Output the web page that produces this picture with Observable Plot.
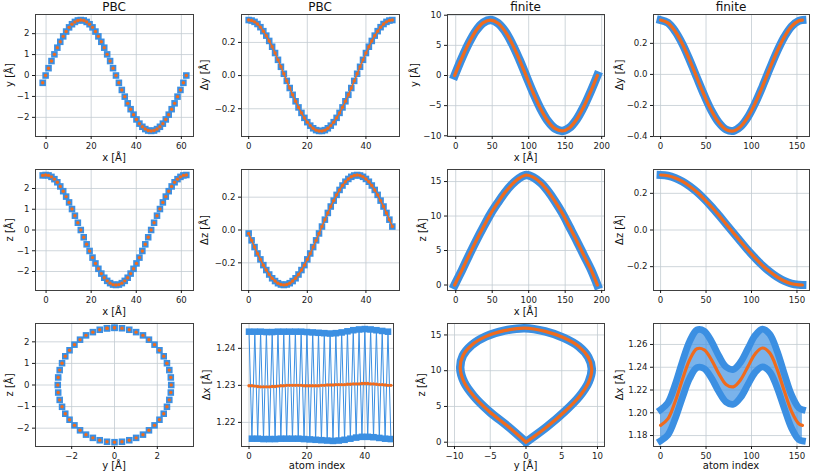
<!DOCTYPE html>
<html><head><meta charset="utf-8">
<script src="https://cdn.jsdelivr.net/npm/d3@7"></script>
<script src="https://cdn.jsdelivr.net/npm/@observablehq/plot@0.6"></script>
<style>
html,body{margin:0;padding:0;background:#fff;}
#fig{position:relative;width:813px;height:476px;overflow:hidden;font-family:"DejaVu Sans",sans-serif;color:#111;background:#fff;}
#fig svg{position:absolute;}
.lbl{position:absolute;white-space:nowrap;font-size:10px;line-height:1;transform:translate(-50%,-50%);}
.lbl.rot{transform:translate(-50%,-50%) rotate(-90deg);}
.lbl.ttl{font-size:12px;}
</style></head><body><div id="fig"></div>
<script>
// ---------- PBC: atomic positions (50 atoms) ----------
const posX = [-1.5,-0.2,1.1,2.4,3.7,5.0,6.3,7.6,8.9,10.2,11.5,12.8,14.1,15.4,16.7,18.0,19.3,20.6,21.9,23.2,24.5,25.8,27.1,28.4,29.7,31.0,32.3,33.6,34.9,36.2,37.5,38.8,40.1,41.4,42.7,44.0,45.3,46.6,47.9,49.2,50.5,51.8,53.1,54.4,55.7,57.0,58.3,59.6,60.9,62.2];
const posY = [-0.35,0,0.35,0.69,1.01,1.33,1.61,1.87,2.10,2.30,2.45,2.56,2.63,2.65,2.63,2.56,2.45,2.30,2.10,1.87,1.61,1.33,1.01,0.69,0.35,0,-0.35,-0.69,-1.01,-1.33,-1.61,-1.87,-2.10,-2.30,-2.45,-2.56,-2.63,-2.65,-2.63,-2.56,-2.45,-2.30,-2.10,-1.87,-1.61,-1.33,-1.01,-0.69,-0.35,0];
const posZ = [2.63,2.65,2.63,2.56,2.45,2.30,2.10,1.87,1.61,1.33,1.01,0.69,0.35,0,-0.35,-0.69,-1.01,-1.33,-1.61,-1.87,-2.10,-2.30,-2.45,-2.56,-2.63,-2.65,-2.63,-2.56,-2.45,-2.30,-2.10,-1.87,-1.61,-1.33,-1.01,-0.69,-0.35,0,0.35,0.69,1.01,1.33,1.61,1.87,2.10,2.30,2.45,2.56,2.63,2.65];
// ---------- PBC: bond differences (index 0..49) ----------
const dyP = [0.335,0.332,0.324,0.311,0.292,0.268,0.241,0.209,0.174,0.136,0.095,0.053,0.011,-0.032,-0.075,-0.116,-0.155,-0.192,-0.225,-0.255,-0.281,-0.302,-0.318,-0.329,-0.334,-0.334,-0.329,-0.318,-0.302,-0.281,-0.255,-0.225,-0.192,-0.155,-0.116,-0.075,-0.032,0.011,0.053,0.095,0.136,0.174,0.209,0.241,0.268,0.292,0.311,0.324,0.332,0.335];
const dzP = [-0.021,-0.063,-0.104,-0.143,-0.179,-0.214,-0.244,-0.271,-0.294,-0.311,-0.324,-0.332,-0.335,-0.332,-0.324,-0.311,-0.294,-0.271,-0.244,-0.214,-0.179,-0.143,-0.104,-0.063,-0.021,0.021,0.063,0.104,0.143,0.179,0.214,0.244,0.271,0.294,0.311,0.324,0.332,0.335,0.332,0.324,0.311,0.294,0.271,0.244,0.214,0.179,0.143,0.104,0.063,0.021];
const dxP = [1.2445,1.2156,1.2445,1.2156,1.2445,1.2155,1.2444,1.2155,1.2444,1.2155,1.2445,1.2156,1.2445,1.2156,1.2445,1.2156,1.2445,1.2156,1.2445,1.2155,1.2444,1.2154,1.2443,1.2153,1.2442,1.2152,1.2441,1.2151,1.2440,1.2150,1.2441,1.2151,1.2443,1.2153,1.2446,1.2156,1.2449,1.2159,1.2451,1.2161,1.2452,1.2161,1.2451,1.2160,1.2449,1.2158,1.2447,1.2156,1.2445,1.2155];
const dxPavg = [1.2299,1.2299,1.2298,1.2297,1.2296,1.2296,1.2296,1.2296,1.2297,1.2297,1.2298,1.2299,1.2299,1.2300,1.2300,1.2300,1.2300,1.2300,1.2300,1.2299,1.2299,1.2299,1.2299,1.2299,1.2299,1.2300,1.2300,1.2301,1.2301,1.2301,1.2302,1.2302,1.2302,1.2302,1.2303,1.2303,1.2304,1.2304,1.2304,1.2305,1.2305,1.2305,1.2304,1.2304,1.2303,1.2302,1.2302,1.2301,1.2300,1.2300];
// ---------- finite: positions, sampled atoms ----------
const finX = [-1.5,8.3,18.2,28.0,37.9,47.7,57.5,67.4,77.2,87.1,96.9,106.7,116.6,126.4,136.3,146.1,156.0,165.8,175.6,185.5,194.1];
const finY = [0,2.86,5.43,7.47,8.77,9.20,8.71,7.37,5.29,2.69,-0.18,-3.03,-5.59,-7.58,-8.83,-9.20,-8.66,-7.26,-5.14,-2.51,0];
const finZ = [0,2.1,4.3,6.4,8.4,10.3,11.9,13.4,14.6,15.5,15.95,15.6,14.8,13.6,12.1,10.4,8.4,6.4,4.3,2.2,0];
// ---------- finite: bond differences, sampled atom index ----------
const kD = [0,8,16,24,32,40,48,56,64,72,80,88,96,104,112,120,128,136,144,152,156];
const dyF = [0.350,0.332,0.278,0.196,0.092,-0.022,-0.134,-0.234,-0.310,-0.355,-0.364,-0.336,-0.275,-0.186,-0.079,0.036,0.146,0.240,0.309,0.345,0.350];
const dzF = [0.300,0.296,0.284,0.265,0.239,0.207,0.169,0.127,0.081,0.033,-0.015,-0.063,-0.110,-0.153,-0.193,-0.227,-0.256,-0.278,-0.293,-0.299,-0.300];
const dxFavg = [1.1890,1.1946,1.2097,1.2292,1.2466,1.2562,1.2553,1.2465,1.2344,1.2249,1.2228,1.2290,1.2405,1.2517,1.2569,1.2526,1.2385,1.2193,1.2012,1.1904,1.1890];
const dxFhi = [1.2027,1.2087,1.2247,1.2450,1.2629,1.2728,1.2718,1.2626,1.2501,1.2403,1.2381,1.2445,1.2563,1.2679,1.2735,1.2691,1.2545,1.2345,1.2157,1.2043,1.2027];
const dxFlo = [1.1753,1.1805,1.1947,1.2134,1.2303,1.2396,1.2388,1.2304,1.2187,1.2095,1.2075,1.2135,1.2247,1.2355,1.2403,1.2361,1.2225,1.2041,1.1867,1.1765,1.1753];

// ---------- tables ----------
const pos = posX.map((x,i)=>({x, y:posY[i], z:posZ[i]}));
const fin = finX.map((x,i)=>({x, y:finY[i], z:finZ[i]}));
const finD = kD.map((k,i)=>({k, dy:dyF[i], dz:dzF[i], m:dxFavg[i], hi:dxFhi[i], lo:dxFlo[i]}));

const BLUE="#3b8fe2", ORANGE="#f06b1d", GRID="#c3cbd2";
const ML=46, MR=8, MT=8, MB=24;
const fig=document.getElementById("fig");
const pad=v=>{const lo=d3.min(v),hi=d3.max(v),r=hi-lo;return [lo-0.05*r,hi+0.05*r];};
const fI=d3.format("d"), f1=d3.format(".1f"), f2=d3.format(".2f");
const I=(d,i)=>i, V=d=>d;

const sq=(data,x,y)=>Plot.dot(data,{x,y,symbol:"square",r:3.7,fill:BLUE,stroke:null,clip:true});
const od=(data,x,y)=>Plot.dot(data,{x,y,r:1.7,fill:ORANGE,stroke:null,clip:true});
const bl=(data,x,y,w)=>Plot.line(data,{x,y,stroke:BLUE,strokeWidth:w,clip:true});
const ol=(data,x,y,w)=>Plot.line(data,{x,y,stroke:ORANGE,strokeWidth:w,clip:true});
const band=(data,x,y,w)=>Plot.line(data,{x,y,stroke:BLUE,strokeWidth:w,strokeLinecap:"square",strokeLinejoin:"round",curve:"catmull-rom",clip:true});
const core=(data,x,y)=>Plot.line(data,{x,y,stroke:ORANGE,strokeWidth:3.2,strokeLinecap:"round",curve:"catmull-rom",clip:true});

function panel(p){
  const svg=Plot.plot({
    width:p.w+ML+MR, height:p.h+MT+MB,
    marginLeft:ML, marginRight:MR, marginTop:MT, marginBottom:MB,
    style:{background:"none",maxWidth:"none",overflow:"visible",fontFamily:"DejaVu Sans",fontSize:"8.6px",color:"#1a1a1a"},
    x:{domain:p.xd,label:null}, y:{domain:p.yd,label:null},
    marks:[
      Plot.gridX(p.xt,{stroke:GRID,strokeOpacity:1,strokeWidth:0.8}),
      Plot.gridY(p.yt,{stroke:GRID,strokeOpacity:1,strokeWidth:0.8}),
      ...p.marks,
      Plot.frame({stroke:"#404040",strokeWidth:1}),
      Plot.axisX(p.xt,{tickSize:3,tickPadding:3,tickFormat:p.xf,label:null}),
      Plot.axisY(p.yt,{tickSize:3,tickPadding:3,tickFormat:p.yf,label:null})
    ]
  });
  svg.style.left=(p.l-ML)+"px"; svg.style.top=(p.t-MT)+"px";
  fig.appendChild(svg);
}
function label(txt,x,y,cls){const d=document.createElement("div");d.className="lbl"+(cls?" "+cls:"");d.textContent=txt;d.style.left=x+"px";d.style.top=y+"px";fig.appendChild(d);}

const idx50=[0,dyP.length-1];
// Row 1
panel({l:35,t:14,w:158,h:122,xd:pad(posX),yd:pad(posY),xt:[0,20,40,60],yt:[-2,-1,0,1,2],xf:fI,yf:fI,
  marks:[sq(pos,"x","y"),od(pos,"x","y")]});
panel({l:241,t:14,w:158,h:122,xd:pad(idx50),yd:pad(dyP),xt:[0,20,40],yt:[-0.2,0,0.2],xf:fI,yf:f1,
  marks:[bl(dyP,I,V,1.5),sq(dyP,I,V),ol(dyP,I,V,1.4),od(dyP,I,V)]});
panel({l:447,t:14,w:157,h:122,xd:pad(finX),yd:pad(finY),xt:[0,50,100,150,200],yt:[-10,-5,0,5,10],xf:fI,yf:fI,
  marks:[band(fin,"x","y",8.5),core(fin,"x","y")]});
panel({l:653,t:14,w:156,h:122,xd:pad(kD),yd:pad(dyF),xt:[0,50,100,150],yt:[-0.4,-0.2,0,0.2],xf:fI,yf:f1,
  marks:[band(finD,"k","dy",8),core(finD,"k","dy")]});
// Row 2
panel({l:35,t:169,w:158,h:121,xd:pad(posX),yd:pad(posZ),xt:[0,20,40,60],yt:[-2,-1,0,1,2],xf:fI,yf:fI,
  marks:[sq(pos,"x","z"),od(pos,"x","z")]});
panel({l:241,t:169,w:158,h:121,xd:pad(idx50),yd:pad(dzP),xt:[0,20,40],yt:[-0.2,0,0.2],xf:fI,yf:f1,
  marks:[bl(dzP,I,V,1.5),sq(dzP,I,V),ol(dzP,I,V,1.4),od(dzP,I,V)]});
panel({l:447,t:169,w:157,h:121,xd:pad(finX),yd:pad(finZ),xt:[0,50,100,150,200],yt:[0,5,10,15],xf:fI,yf:fI,
  marks:[band(fin,"x","z",8.5),core(fin,"x","z")]});
panel({l:653,t:169,w:156,h:121,xd:pad(kD),yd:pad(dzF),xt:[0,50,100,150],yt:[-0.2,0,0.2],xf:fI,yf:f1,
  marks:[band(finD,"k","dz",8),core(finD,"k","dz")]});
// Row 3
panel({l:35,t:323,w:158,h:123,xd:[-3.69,3.69],yd:[-2.85,2.85],xt:[-2,0,2],yt:[-2,-1,0,1,2],xf:fI,yf:fI,
  marks:[sq(pos,"y","z"),od(pos,"y","z")]});
panel({l:241,t:323,w:152,h:123,xd:[-2.6,49.9],yd:pad(dxP),xt:[0,20,40],yt:[1.22,1.23,1.24],xf:fI,yf:f2,
  marks:[bl(dxP,I,V,1),sq(dxP,I,V),ol(dxPavg,I,V,1.4),od(dxPavg,I,V)]});
panel({l:447,t:323,w:157,h:123,xd:[-10.98,10.98],yd:[-0.6,16.6],xt:[-10,-5,0,5,10],yt:[0,5,10,15],xf:fI,yf:fI,
  marks:[band(fin,"y","z",8.5),core(fin,"y","z")]});
panel({l:653,t:323,w:156,h:123,xd:pad(kD),yd:pad([...dxFhi,...dxFlo]),xt:[0,50,100,150],yt:[1.18,1.20,1.22,1.24,1.26],xf:fI,yf:f2,
  marks:[
    Plot.areaY(finD,{x:"k",y1:"lo",y2:"hi",fill:BLUE,fillOpacity:0.68,curve:"catmull-rom",clip:true}),
    band(finD,"k","hi",6.8),band(finD,"k","lo",6.8),core(finD,"k","m")]});

// Titles
label("PBC",114,6.5,"ttl"); label("PBC",320,6.5,"ttl");
label("finite",525.5,6.5,"ttl"); label("finite",731,6.5,"ttl");
// x labels
label("x [Å]",114,158); label("x [Å]",525.5,158);
label("x [Å]",114,312); label("x [Å]",525.5,312);
label("y [Å]",114,466); label("atom index",317,466); label("y [Å]",525.5,466); label("atom index",731,466);
// y labels
label("y [Å]",10,75,"rot"); label("Δy [Å]",205,75,"rot"); label("y [Å]",415,75,"rot"); label("Δy [Å]",620,75,"rot");
label("z [Å]",10,229.5,"rot"); label("Δz [Å]",205,229.5,"rot"); label("z [Å]",423,229.5,"rot"); label("Δz [Å]",620,229.5,"rot");
label("z [Å]",10,384.5,"rot"); label("Δx [Å]",207,384.5,"rot"); label("z [Å]",422,384.5,"rot"); label("Δx [Å]",620,384.5,"rot");
</script></body></html>
